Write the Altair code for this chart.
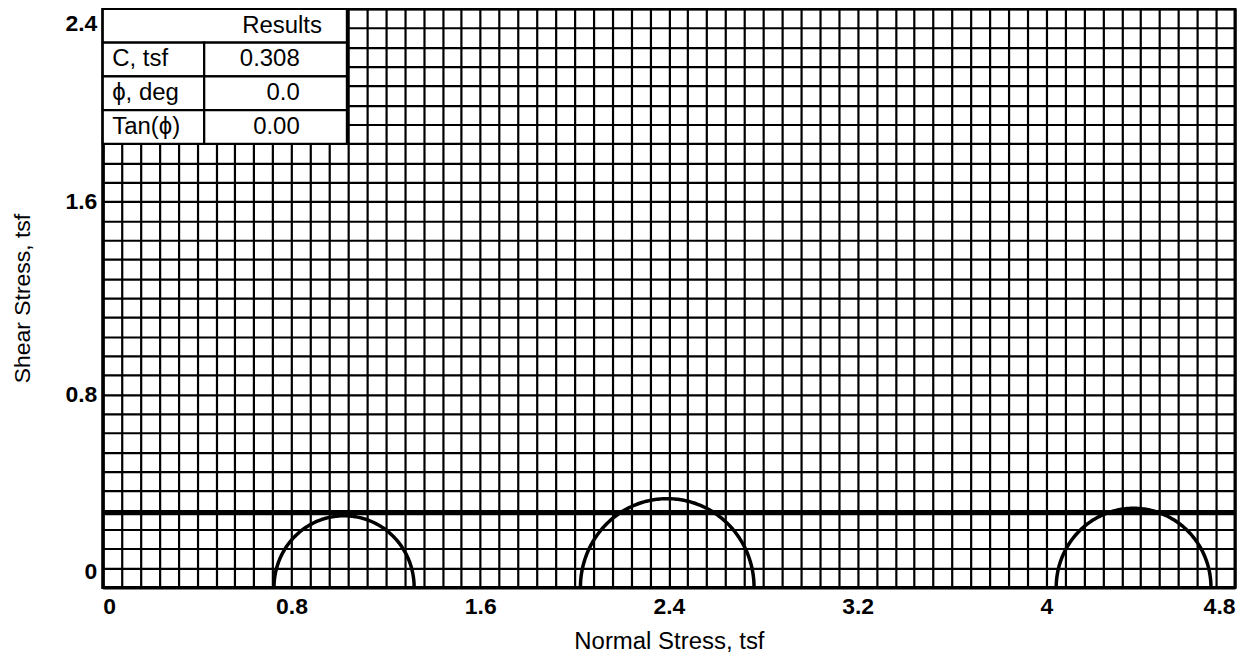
import altair as alt
import pandas as pd

# ---- data ----
x_grid = [round(i * 0.08, 2) for i in range(61)]   # grid every 0.08 tsf
y_grid = [round(i * 0.08, 2) for i in range(31)]
x_labels = [0, 0.8, 1.6, 2.4, 3.2, 4, 4.8]
y_labels = [0, 0.8, 1.6, 2.4]

circle_id = [1, 2, 3]
circle_center = [1.023, 2.393, 4.370]
circle_radius = [0.297, 0.368, 0.328]
cohesion = [0.308]

table_header = ["Results"]
table_labels = ["C, tsf", "\u03d5, deg", "Tan(\u03d5)"]
table_values = ["0.308", "0.0", "0.00"]
table_col_edges = [0, 0.43, 1.035]
table_row_edges = [2.4, 2.26, 2.12, 1.98, 1.84]

FONT = "Liberation Sans"
LABEL_EXPR = "abs(datum.value / 0.8 - round(datum.value / 0.8)) < 0.001 ? datum.label : ''"

xscale = alt.Scale(domain=[0, 4.8], nice=False, zero=False)
yscale = alt.Scale(domain=[0, 2.4], nice=False, zero=False)

xaxis = alt.Axis(
    values=x_grid, grid=True, ticks=False, format="~g",
    labelExpr=LABEL_EXPR,
    labelFlush=True, labelOverlap=False, labelFont=FONT, labelFontSize=23,
    labelFontWeight="bold", labelColor="black", labelPadding=8,
    title="Normal Stress, tsf", titleFont=FONT, titleFontSize=24,
    titleFontWeight="normal", titleColor="black", titleY=61,
    titleBaseline="alphabetic",
    domainColor="black", domainWidth=3,
    gridColor="black", gridWidth=2.2, gridOpacity=1,
)
yaxis = alt.Axis(
    values=y_grid, grid=True, ticks=False, format="~g",
    labelExpr=LABEL_EXPR,
    labelFlush=True, labelFlushOffset=-4, labelOverlap=False, labelFont=FONT,
    labelFontSize=23, labelFontWeight="bold", labelColor="black", labelPadding=6,
    title="Shear Stress, tsf", titleFont=FONT, titleFontSize=23,
    titleFontWeight="normal", titleColor="black", titleX=-80, titleY=290,
    titleAngle=-90, titleAlign="center", titleBaseline="middle",
    domainColor="black", domainWidth=3,
    gridColor="black", gridWidth=2.2, gridOpacity=1,
)

# cohesion line
c_df = pd.DataFrame({"c": cohesion})
c_line = alt.Chart(c_df).mark_rule(color="black", strokeWidth=4.5).encode(
    y=alt.Y("c:Q", scale=yscale, axis=yaxis)
)

# Mohr circles (semicircles from centre / radius)
circ_df = pd.DataFrame({"id": circle_id, "center": circle_center, "radius": circle_radius})
circles = (
    alt.Chart(circ_df)
    .transform_calculate(ang="sequence(0, 181, 1)")
    .transform_flatten(["ang"])
    .transform_calculate(
        sx="datum.center + datum.radius * cos(datum.ang * PI / 180)",
        tau="datum.radius * sin(datum.ang * PI / 180)",
    )
    .mark_line(color="black", strokeWidth=3.5)
    .encode(
        x=alt.X("sx:Q", scale=xscale, axis=xaxis),
        y=alt.Y("tau:Q", scale=yscale, axis=yaxis),
        detail="id:N",
        order="ang:Q",
    )
)

# results table cells
cells = [{"x": table_col_edges[0], "x2": table_col_edges[2],
          "y": table_row_edges[1], "y2": table_row_edges[0]}]
for i in range(len(table_labels)):
    for j in range(2):
        cells.append({"x": table_col_edges[j], "x2": table_col_edges[j + 1],
                      "y": table_row_edges[i + 2], "y2": table_row_edges[i + 1]})
cells_df = pd.DataFrame(cells)
table_rects = alt.Chart(cells_df).mark_rect(
    fill="white", stroke="black", strokeWidth=2.2
).encode(
    x=alt.X("x:Q", scale=xscale, axis=xaxis),
    x2="x2:Q",
    y=alt.Y("y:Q", scale=yscale, axis=yaxis),
    y2="y2:Q",
)

row_mid = [(table_row_edges[i] + table_row_edges[i + 1]) / 2 for i in range(4)]
lab_df = pd.DataFrame({"t": table_labels, "x": [0.04] * 3, "y": row_mid[1:]})
val_df = pd.DataFrame({"t": table_values, "x": [0.835] * 3, "y": row_mid[1:]})
head_df = pd.DataFrame({"t": table_header, "x": [0.76], "y": [row_mid[0]]})


def text_layer(df, align):
    return alt.Chart(df).mark_text(
        align=align, baseline="middle", font=FONT, fontSize=24, color="black"
    ).encode(
        x=alt.X("x:Q", scale=xscale, axis=xaxis),
        y=alt.Y("y:Q", scale=yscale, axis=yaxis),
        text="t:N",
    )


chart = alt.layer(
    c_line, circles, table_rects,
    text_layer(lab_df, "left"), text_layer(val_df, "right"), text_layer(head_df, "center"),
).properties(
    width=1135, height=580,
    autosize=alt.AutoSizeParams(type="none"),
    padding={"left": 95, "top": 0, "right": 6, "bottom": 70},
    background="white",
).configure_view(stroke="black", strokeWidth=3)

chart.save("out.html", embed_options={"renderer": "svg", "actions": False})
